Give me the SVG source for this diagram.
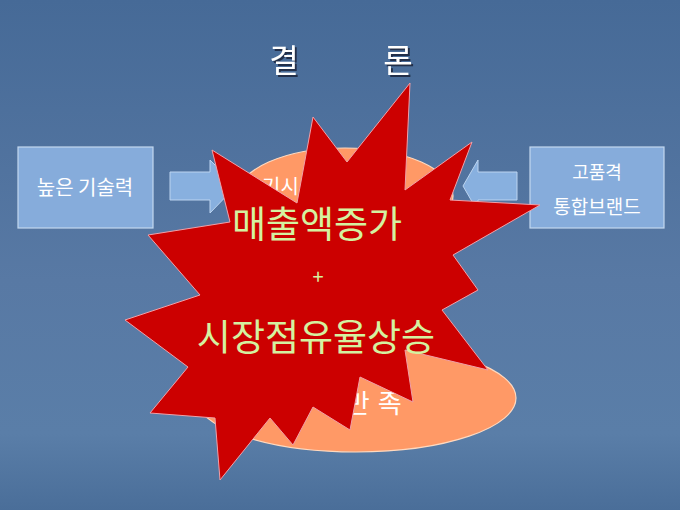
<svg xmlns="http://www.w3.org/2000/svg" width="680" height="510" viewBox="0 0 680 510">
<defs>
<linearGradient id="bg" x1="0" y1="0" x2="0" y2="1">
<stop offset="0" stop-color="#466a97"/>
<stop offset="0.55" stop-color="#5879a4"/>
<stop offset="0.85" stop-color="#5a7ea8"/>
<stop offset="1" stop-color="#4a6e99"/>
</linearGradient>
<filter id="sh" x="-20%" y="-20%" width="140%" height="140%">
<feDropShadow dx="2" dy="2" stdDeviation="0.6" flood-color="#1a2a40" flood-opacity="0.9"/>
</filter>
<style>
.box{fill:#86acdb;stroke:#c4d8ef;stroke-width:1.2}
.arrow{fill:#88b0df;stroke:#bcd4f0;stroke-width:1}
.ell{fill:#ff9966;stroke:#ffd9bf;stroke-width:1.2}
.star{fill:#cc0000;stroke:#f0a0a8;stroke-width:1}
.kr{font-family:"Noto Sans CJK KR","Noto Sans",sans-serif}
.wt{fill:#ffffff}
.gt{fill:#d4f2a0;text-anchor:middle}
</style>
</defs>
<rect width="680" height="510" fill="url(#bg)"/>
<g id="title">
<text x="284" y="72" class="kr wt" font-size="32" text-anchor="middle" filter="url(#sh)">결</text>
<text x="398" y="72" class="kr wt" font-size="32" text-anchor="middle" filter="url(#sh)">론</text>
</g>
<g id="box-left">
<rect class="box" x="18" y="147" width="135" height="81"/>
<text x="85" y="195" class="kr wt" font-size="20" text-anchor="middle">높은 기술력</text>
</g>
<g id="box-right">
<rect class="box" x="530" y="147" width="134" height="81"/>
<text x="597" y="179" class="kr wt" font-size="18" text-anchor="middle">고품격</text>
<text x="597" y="214" class="kr wt" font-size="19" text-anchor="middle">통합브랜드</text>
</g>
<g id="connectors">
<polygon class="arrow" points="170,172 210,172 210,160 236,186 210,213 210,200 170,200"/>
<polygon class="arrow" points="517,172 478,172 478,160 463,186 478,212 478,200 517,200"/>
</g>
<g id="ellipse-top">
<ellipse class="ell" cx="345" cy="196" rx="108" ry="48"/>
<text x="262" y="194" class="kr wt" font-size="20">기시</text>
</g>
<g id="ellipse-bottom">
<ellipse class="ell" cx="356" cy="398" rx="160" ry="54"/>
<text x="282" y="413" class="kr wt" font-size="26" letter-spacing="8">고객만족</text>
</g>
<g id="star">
<polygon class="star" points="410,83 405,190 472,142 450,200 540,205 453,255 478,290 442,310 488,370 405,350 413,402 360,377 350,430 313,407 293,445 270,418 220,480 215,418 150,413 188,367 125,320 200,295 148,235 230,222 212,150 297,203 313,117 347,162"/>
<text x="317" y="238" class="kr gt" font-size="37">매출액증가</text>
<text x="318" y="284" class="kr gt" font-size="20">+</text>
<text x="316" y="351" class="kr gt" font-size="37">시장점유율상승</text>
</g>
</svg>
